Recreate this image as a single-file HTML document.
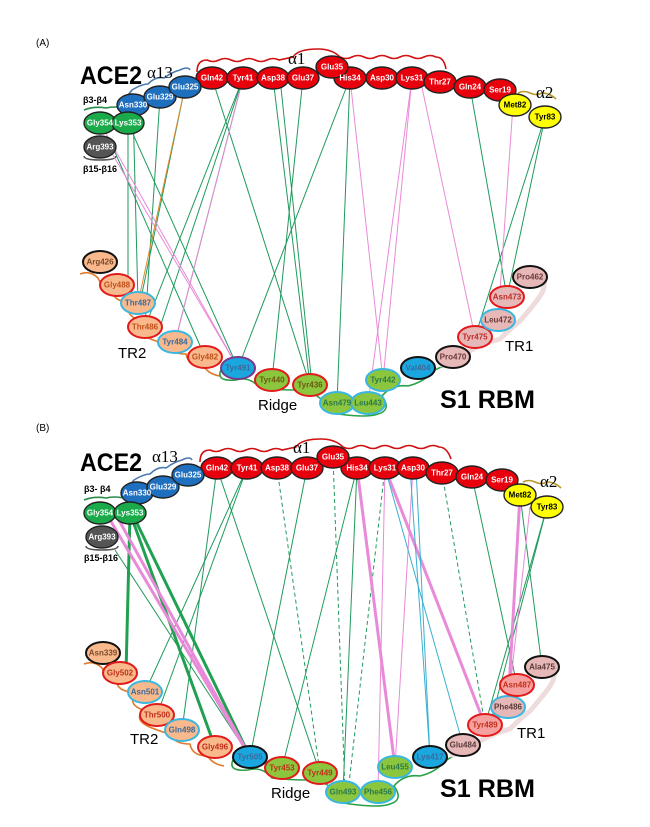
<!DOCTYPE html>
<html><head><meta charset="utf-8"><style>
body{margin:0;background:#fff}
svg{display:block}
.n text{font-family:"Liberation Sans",sans-serif;font-weight:bold;font-size:8px;text-anchor:middle;dominant-baseline:central}
.lab{font-family:"Liberation Sans",sans-serif}
</style></head><body>
<svg width="650" height="827" viewBox="0 0 650 827" xmlns="http://www.w3.org/2000/svg">
<text x="36" y="46" class="lab" font-family="Liberation Serif" font-size="10">(A)</text>
<text x="36" y="431" class="lab" font-family="Liberation Serif" font-size="10">(B)</text>

<g fill="none" stroke-width="1.6">
<path d="M197,72 q0,-12 10,-12 q6,3 12,0 q6,-3 12,0 q6,3 12,0 q6,-3 12,0 q6,3 12,0 q6,-3 12,0 l14,-3 q5,-8 25,-8 q14,0 22,8 q6,3 12,0 q6,-3 12,0 q6,3 12,0 q6,-3 12,0 q6,3 12,0 q6,-3 12,0 q6,3 12,0 q6,-3 12,0 q8,0 10,12" stroke="#d01010"/>
<path d="M120,102 q8,-6 12,-12 q10,-6 16,-6 q8,-8 16,-6 q8,-6 16,-8 q8,-4 10,0" stroke="#4a78b0"/>
<path d="M84,110 q10,-4 22,-2 q8,-2 18,0" stroke="#2a8a4a"/>
<path d="M84,156 q0,4 16,4 q16,0 16,-4" stroke="#555"/>
<path d="M518,93 q6,-3 12,0 q6,3 12,0 q8,0 14,6" stroke="#b89a2a"/>
<path d="M80,274 q10,-4 18,4 q4,10 14,10 q0,14 18,14 q-6,14 10,18 q-12,10 8,18 q10,4 18,6 q4,10 20,10 q2,12 18,12 q4,8 16,10" stroke="#e07a2a"/>
<path d="M222,368 q-8,14 14,12 q14,-4 24,8 q18,2 34,2 q18,0 28,10 q-4,12 16,14 q30,4 40,0 q14,-4 4,-18 q10,-12 26,-10 q16,-4 24,-14 q8,-6 22,-8" stroke="#2aa048"/>
<path d="M440,365 q20,-4 30,-14 q14,-8 30,-12 q12,-12 20,-18 q12,-14 18,-22 q8,-10 6,-20" stroke="#eedcdc" stroke-width="5"/>
</g>

<g stroke-width="1" fill="none">
<g stroke="#1f9a5c">
<line x1="128" y1="123" x2="128" y2="285"/>
<line x1="128" y1="123" x2="238" y2="368"/>
<line x1="133" y1="105" x2="138" y2="303"/>
<line x1="160" y1="97" x2="145" y2="327"/>
<line x1="185" y1="87" x2="140" y2="303"/>
<line x1="212" y1="78" x2="310" y2="385"/>
<line x1="243" y1="78" x2="145" y2="327"/>
<line x1="243" y1="78" x2="175" y2="342"/>
<line x1="243" y1="78" x2="160" y2="327"/>
<line x1="273" y1="78" x2="310" y2="385"/>
<line x1="280" y1="78" x2="312" y2="385"/>
<line x1="303" y1="78" x2="272" y2="380"/>
<line x1="350" y1="78" x2="238" y2="368"/>
<line x1="350" y1="78" x2="337" y2="403"/>
<line x1="470" y1="87" x2="507" y2="297"/>
<line x1="545" y1="117" x2="507" y2="297"/>
<line x1="545" y1="117" x2="475" y2="337"/>
<line x1="114" y1="150" x2="205" y2="357"/>
</g>
<g stroke="#e98ad8">
<line x1="100" y1="123" x2="238" y2="368"/>
<line x1="110" y1="150" x2="238" y2="368"/>
<line x1="243" y1="78" x2="175" y2="342"/>
<line x1="350" y1="78" x2="383" y2="380"/>
<line x1="412" y1="78" x2="368" y2="403"/>
<line x1="412" y1="78" x2="383" y2="380"/>
<line x1="420" y1="78" x2="475" y2="337"/>
<line x1="513" y1="105" x2="498" y2="320"/>
</g>
<line x1="185" y1="87" x2="138" y2="303" stroke="#e08a30"/>
</g>

<g fill="none" stroke-width="1.6">
<path d="M200,462 q0,-12 10,-12 q6,3 12,0 q6,-3 12,0 q6,3 12,0 q6,-3 12,0 q6,3 12,0 q6,-3 12,0 l14,-3 q5,-8 25,-8 q14,0 22,8 q6,3 12,0 q6,-3 12,0 q6,3 12,0 q6,-3 12,0 q6,3 12,0 q6,-3 12,0 q6,3 12,0 q6,-3 12,0 q8,0 12,12" stroke="#d01010"/>
<path d="M122,492 q8,-6 12,-12 q10,-6 16,-6 q8,-8 16,-6 q8,-6 16,-8 q8,-4 10,0" stroke="#4a78b0"/>
<path d="M84,500 q10,-4 22,-2 q8,-2 18,0" stroke="#2a8a4a"/>
<path d="M86,546 q0,4 16,4 q16,0 16,-4" stroke="#555"/>
<path d="M523,482 q6,-3 12,0 q6,3 12,0 q8,0 14,6" stroke="#b89a2a"/>
<path d="M84,664 q10,-4 18,4 q4,10 14,10 q0,14 18,14 q-6,14 10,18 q-12,10 8,18 q10,4 18,6 q4,10 20,10 q2,12 18,12 q4,8 16,10" stroke="#e07a2a"/>
<path d="M234,758 q-8,14 14,12 q14,-4 24,8 q18,2 34,2 q18,0 28,10 q-4,12 16,14 q30,4 40,0 q14,-4 4,-18 q10,-12 26,-10 q16,-4 24,-14 q8,-6 14,-8" stroke="#2aa048"/>
<path d="M450,755 q20,-4 30,-14 q14,-8 30,-12 q12,-12 20,-18 q12,-14 18,-22 q8,-10 6,-20" stroke="#eedcdc" stroke-width="5"/>
</g>

<g fill="none">
<g stroke="#1f9a5c" stroke-width="1">
<line x1="115" y1="550" x2="250" y2="757"/>
<line x1="217" y1="468" x2="320" y2="773"/>
<line x1="217" y1="468" x2="182" y2="730"/>
<line x1="247" y1="468" x2="145" y2="692"/>
<line x1="247" y1="468" x2="157" y2="715"/>
<line x1="307" y1="468" x2="250" y2="757"/>
<line x1="357" y1="468" x2="282" y2="768"/>
<line x1="357" y1="468" x2="343" y2="792"/>
<line x1="472" y1="477" x2="517" y2="685"/>
<line x1="547" y1="507" x2="485" y2="725"/>
<line x1="547" y1="507" x2="490" y2="725"/>
<line x1="520" y1="495" x2="542" y2="667"/>
</g>
<g stroke="#1f9a5c" stroke-width="1" stroke-dasharray="4,3">
<line x1="277" y1="468" x2="320" y2="773"/>
<line x1="333" y1="457" x2="345" y2="792"/>
<line x1="385" y1="468" x2="348" y2="792"/>
<line x1="442" y1="473" x2="485" y2="725"/>
</g>
<g stroke="#20a050" stroke-width="3">
<line x1="130" y1="513" x2="126" y2="673"/>
<line x1="130" y1="513" x2="215" y2="747"/>
<line x1="132" y1="513" x2="250" y2="757"/>
</g>
<g stroke="#e98ad8" stroke-width="3">
<line x1="106" y1="513" x2="250" y2="757"/>
<line x1="115" y1="513" x2="250" y2="757"/>
<line x1="357" y1="468" x2="395" y2="767"/>
<line x1="385" y1="468" x2="485" y2="725"/>
<line x1="520" y1="495" x2="508" y2="707"/>
</g>
<g stroke="#e98ad8" stroke-width="1">
<line x1="385" y1="468" x2="378" y2="792"/>
<line x1="413" y1="468" x2="395" y2="767"/>
<line x1="530" y1="507" x2="508" y2="707"/>
</g>
<g stroke="#3ab0d0" stroke-width="1">
<line x1="385" y1="468" x2="463" y2="745"/>
<line x1="410" y1="468" x2="430" y2="757"/>
<line x1="416" y1="468" x2="430" y2="757"/>
</g>
</g>

<g class="n" stroke-width="1.4">
<g fill="#e8000c" stroke="#222"><ellipse cx="212" cy="78" rx="16" ry="11"/><ellipse cx="243" cy="78" rx="16" ry="11"/><ellipse cx="273" cy="78" rx="16" ry="11"/><ellipse cx="303" cy="78" rx="16" ry="11"/><ellipse cx="350" cy="78" rx="16" ry="11"/><ellipse cx="382" cy="78" rx="16" ry="11"/><ellipse cx="412" cy="78" rx="16" ry="11"/><ellipse cx="440" cy="82" rx="16" ry="11"/><ellipse cx="470" cy="87" rx="16" ry="11"/><ellipse cx="500" cy="90" rx="16" ry="11"/><ellipse cx="332" cy="67" rx="16" ry="11"/></g>
<g fill="#fff"><text x="212" y="78">Gln42</text><text x="243" y="78">Tyr41</text><text x="273" y="78">Asp38</text><text x="303" y="78">Glu37</text><text x="332" y="67">Glu35</text><text x="350" y="78">His34</text><text x="382" y="78">Asp30</text><text x="412" y="78">Lys31</text><text x="440" y="82">Thr27</text><text x="470" y="87">Gln24</text><text x="500" y="90">Ser19</text></g>
<g fill="#ffff00" stroke="#222"><ellipse cx="515" cy="105" rx="16" ry="11"/><ellipse cx="545" cy="117" rx="16" ry="11"/></g>
<text x="515" y="105">Met82</text><text x="545" y="117">Tyr83</text>
<g fill="#1f6fbf" stroke="#222"><ellipse cx="133" cy="105" rx="16" ry="11"/><ellipse cx="160" cy="97" rx="16" ry="11"/><ellipse cx="185" cy="87" rx="16" ry="11"/></g>
<g fill="#1aaa4a" stroke="#222"><ellipse cx="100" cy="123" rx="16" ry="11"/><ellipse cx="128" cy="123" rx="16" ry="11"/></g>
<ellipse cx="100" cy="147" rx="16" ry="11" fill="#555" stroke="#222"/>
<g fill="#fff"><text x="133" y="105">Asn330</text><text x="160" y="97">Glu329</text><text x="185" y="87">Glu325</text><text x="100" y="123">Gly354</text><text x="128" y="123">Lys353</text><text x="100" y="147">Arg393</text></g>

<g stroke-width="2">
<ellipse cx="100" cy="262" rx="17" ry="11" fill="#f9b98c" stroke="#111"/>
<ellipse cx="117" cy="285" rx="17" ry="11" fill="#f9b98c" stroke="#e21a1a"/>
<ellipse cx="138" cy="303" rx="17" ry="11" fill="#f9b98c" stroke="#3ab7e0"/>
<ellipse cx="145" cy="327" rx="17" ry="11" fill="#f9b98c" stroke="#e21a1a"/>
<ellipse cx="175" cy="342" rx="17" ry="11" fill="#f9b98c" stroke="#3ab7e0"/>
<ellipse cx="205" cy="357" rx="17" ry="11" fill="#f9b98c" stroke="#e21a1a"/>
<ellipse cx="238" cy="368" rx="17" ry="11" fill="#1aa7e0" stroke="#7a3a8a"/>
<ellipse cx="272" cy="380" rx="17" ry="11" fill="#8cc63f" stroke="#e21a1a"/>
<ellipse cx="310" cy="385" rx="17" ry="11" fill="#8cc63f" stroke="#e21a1a"/>
<ellipse cx="337" cy="403" rx="17" ry="11" fill="#8cc63f" stroke="#3ab7e0"/>
<ellipse cx="368" cy="403" rx="17" ry="11" fill="#8cc63f" stroke="#3ab7e0"/>
<ellipse cx="383" cy="380" rx="17" ry="11" fill="#8cc63f" stroke="#3ab7e0"/>
<ellipse cx="418" cy="368" rx="17" ry="11" fill="#1aa7e0" stroke="#111"/>
<ellipse cx="453" cy="357" rx="17" ry="11" fill="#e6b8b7" stroke="#111"/>
<ellipse cx="475" cy="337" rx="17" ry="11" fill="#e6b8b7" stroke="#e21a1a"/>
<ellipse cx="498" cy="320" rx="17" ry="11" fill="#e6b8b7" stroke="#3ab7e0"/>
<ellipse cx="507" cy="297" rx="17" ry="11" fill="#e6b8b7" stroke="#e21a1a"/>
<ellipse cx="530" cy="277" rx="17" ry="11" fill="#e6b8b7" stroke="#111"/>
</g>
<g fill="#7a4a2a"><text x="100" y="262">Arg426</text></g>
<g fill="#c0501a"><text x="117" y="285">Gly488</text><text x="145" y="327">Thr486</text><text x="205" y="357">Gly482</text></g>
<g fill="#3a6a9a"><text x="138" y="303">Thr487</text><text x="175" y="342">Tyr484</text><text x="238" y="368">Tyr491</text><text x="418" y="368">Val404</text></g>
<g fill="#6a5a10"><text x="272" y="380">Tyr440</text><text x="310" y="385">Tyr436</text></g>
<g fill="#2a7a4a"><text x="337" y="403">Asn479</text><text x="368" y="403">Leu443</text><text x="383" y="380">Tyr442</text></g>
<g fill="#6a3a3a"><text x="453" y="357">Pro470</text><text x="530" y="277">Pro462</text><text x="498" y="320">Leu472</text></g>
<g fill="#c02a2a"><text x="475" y="337">Tyr475</text><text x="507" y="297">Asn473</text></g>

<g fill="#e8000c" stroke="#222"><ellipse cx="217" cy="468" rx="16" ry="11"/><ellipse cx="247" cy="468" rx="16" ry="11"/><ellipse cx="277" cy="468" rx="16" ry="11"/><ellipse cx="307" cy="468" rx="16" ry="11"/><ellipse cx="357" cy="468" rx="16" ry="11"/><ellipse cx="385" cy="468" rx="16" ry="11"/><ellipse cx="413" cy="468" rx="16" ry="11"/><ellipse cx="442" cy="473" rx="16" ry="11"/><ellipse cx="472" cy="477" rx="16" ry="11"/><ellipse cx="502" cy="480" rx="16" ry="11"/><ellipse cx="333" cy="457" rx="16" ry="11"/></g>
<g fill="#fff"><text x="217" y="468">Gln42</text><text x="247" y="468">Tyr41</text><text x="277" y="468">Asp38</text><text x="307" y="468">Glu37</text><text x="333" y="457">Glu35</text><text x="357" y="468">His34</text><text x="385" y="468">Lys31</text><text x="413" y="468">Asp30</text><text x="442" y="473">Thr27</text><text x="472" y="477">Gln24</text><text x="502" y="480">Ser19</text></g>
<g fill="#ffff00" stroke="#222"><ellipse cx="520" cy="495" rx="16" ry="11"/><ellipse cx="547" cy="507" rx="16" ry="11"/></g>
<text x="520" y="495">Met82</text><text x="547" y="507">Tyr83</text>
<g fill="#1f6fbf" stroke="#222"><ellipse cx="137" cy="493" rx="16" ry="11"/><ellipse cx="163" cy="487" rx="16" ry="11"/><ellipse cx="188" cy="475" rx="16" ry="11"/></g>
<g fill="#1aaa4a" stroke="#222"><ellipse cx="100" cy="513" rx="16" ry="11"/><ellipse cx="130" cy="513" rx="16" ry="11"/></g>
<ellipse cx="102" cy="537" rx="16" ry="11" fill="#555" stroke="#222"/>
<g fill="#fff"><text x="137" y="493">Asn330</text><text x="163" y="487">Glu329</text><text x="188" y="475">Glu325</text><text x="100" y="513">Gly354</text><text x="130" y="513">Lys353</text><text x="102" y="537">Arg393</text></g>

<g stroke-width="2">
<ellipse cx="103" cy="653" rx="17" ry="11" fill="#f9b98c" stroke="#111"/>
<ellipse cx="120" cy="673" rx="17" ry="11" fill="#f9b98c" stroke="#e21a1a"/>
<ellipse cx="145" cy="692" rx="17" ry="11" fill="#f9b98c" stroke="#3ab7e0"/>
<ellipse cx="157" cy="715" rx="17" ry="11" fill="#f9b98c" stroke="#e21a1a"/>
<ellipse cx="182" cy="730" rx="17" ry="11" fill="#f9b98c" stroke="#3ab7e0"/>
<ellipse cx="215" cy="747" rx="17" ry="11" fill="#f9b98c" stroke="#e21a1a"/>
<ellipse cx="250" cy="757" rx="17" ry="11" fill="#1aa7e0" stroke="#111"/>
<ellipse cx="282" cy="768" rx="17" ry="11" fill="#8cc63f" stroke="#e21a1a"/>
<ellipse cx="320" cy="773" rx="17" ry="11" fill="#8cc63f" stroke="#e21a1a"/>
<ellipse cx="343" cy="792" rx="17" ry="11" fill="#8cc63f" stroke="#3ab7e0"/>
<ellipse cx="378" cy="792" rx="17" ry="11" fill="#8cc63f" stroke="#3ab7e0"/>
<ellipse cx="395" cy="767" rx="17" ry="11" fill="#8cc63f" stroke="#3ab7e0"/>
<ellipse cx="430" cy="757" rx="17" ry="11" fill="#1aa7e0" stroke="#111"/>
<ellipse cx="463" cy="745" rx="17" ry="11" fill="#e6b8b7" stroke="#111"/>
<ellipse cx="485" cy="725" rx="17" ry="11" fill="#f7a0a0" stroke="#e21a1a"/>
<ellipse cx="508" cy="707" rx="17" ry="11" fill="#e6b8b7" stroke="#3ab7e0"/>
<ellipse cx="517" cy="685" rx="17" ry="11" fill="#f7a0a0" stroke="#e21a1a"/>
<ellipse cx="542" cy="667" rx="17" ry="11" fill="#e6b8b7" stroke="#111"/>
</g>
<g fill="#7a4a2a"><text x="103" y="653">Asn339</text></g>
<g fill="#c0301a"><text x="120" y="673">Gly502</text><text x="157" y="715">Thr500</text><text x="215" y="747">Gly496</text><text x="282" y="768">Tyr453</text><text x="320" y="773">Tyr449</text><text x="485" y="725">Tyr489</text><text x="517" y="685">Asn487</text></g>
<g fill="#3a6a9a"><text x="145" y="692">Asn501</text><text x="182" y="730">Gln498</text><text x="250" y="757">Tyr505</text><text x="430" y="757">Lys417</text></g>
<g fill="#2a7a4a"><text x="343" y="792">Gln493</text><text x="378" y="792">Phe456</text><text x="395" y="767">Leu455</text></g>
<g fill="#5a3a3a"><text x="463" y="745">Glu484</text><text x="508" y="707">Phe486</text><text x="542" y="667">Ala475</text></g>
</g>

<g class="lab">
<text x="80" y="84" font-size="25" font-weight="bold" textLength="62" lengthAdjust="spacingAndGlyphs">ACE2</text>
<text x="147" y="78" font-size="17" font-family="Liberation Serif">α13</text>
<text x="288" y="64" font-size="17" font-family="Liberation Serif">α1</text>
<text x="536" y="98" font-size="17" font-family="Liberation Serif">α2</text>
<text x="83" y="103" font-size="9" font-weight="bold">β3-β4</text>
<text x="83" y="172" font-size="9" font-weight="bold">β15-β16</text>
<text x="118" y="358" font-size="15">TR2</text>
<text x="505" y="351" font-size="15">TR1</text>
<text x="258" y="410" font-size="15">Ridge</text>
<text x="440" y="408" font-size="25" font-weight="bold" textLength="95" lengthAdjust="spacingAndGlyphs">S1 RBM</text>

<text x="80" y="471" font-size="25" font-weight="bold" textLength="62" lengthAdjust="spacingAndGlyphs">ACE2</text>
<text x="152" y="462" font-size="17" font-family="Liberation Serif">α13</text>
<text x="293" y="453" font-size="17" font-family="Liberation Serif">α1</text>
<text x="540" y="487" font-size="17" font-family="Liberation Serif">α2</text>
<text x="84" y="492" font-size="9" font-weight="bold">β3- β4</text>
<text x="84" y="561" font-size="9" font-weight="bold">β15-β16</text>
<text x="130" y="744" font-size="15">TR2</text>
<text x="517" y="738" font-size="15">TR1</text>
<text x="271" y="798" font-size="15">Ridge</text>
<text x="440" y="797" font-size="25" font-weight="bold" textLength="95" lengthAdjust="spacingAndGlyphs">S1 RBM</text>
</g>
</svg>
</body></html>
